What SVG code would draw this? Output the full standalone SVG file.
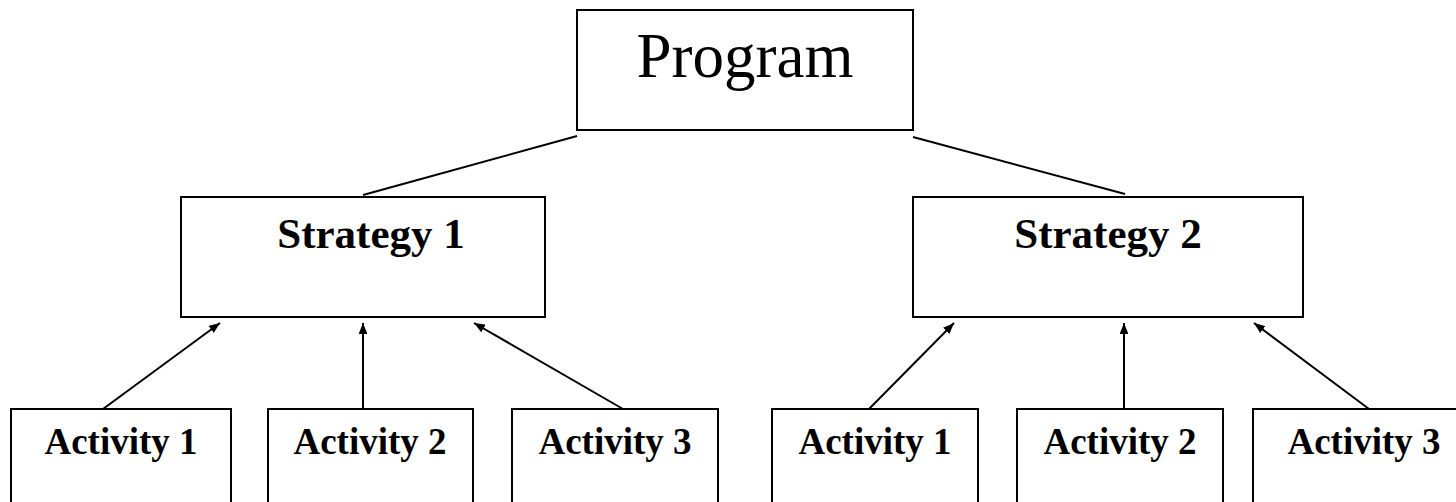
<svg xmlns="http://www.w3.org/2000/svg" width="1456" height="502" viewBox="0 0 1456 502">
<style>
.box{fill:#fff;stroke:#000;stroke-width:2}
.ln{stroke:#000;stroke-width:2;fill:none}
.ar{stroke:#000;stroke-width:2;fill:none;marker-end:url(#ah)}
.t{font-family:"Liberation Serif","Times New Roman",serif;fill:#000;text-anchor:middle}
.b{font-weight:bold}
</style>
<defs>
<marker id="ah" viewBox="0 0 10 8" refX="10" refY="4" markerWidth="5.5" markerHeight="4.4" orient="auto" markerUnits="strokeWidth">
<path d="M0,0 L10,4 L0,8 Z" fill="#000"/>
</marker>
</defs>
<rect width="1456" height="502" fill="#fff"/>
<g id="connectors">
<line class="ln" x1="577" y1="136" x2="363" y2="195"/>
<line class="ln" x1="913" y1="137" x2="1125" y2="194"/>
<line class="ar" x1="103" y1="409" x2="220" y2="323"/>
<line class="ar" x1="363" y1="409" x2="363" y2="323"/>
<line class="ar" x1="623" y1="409" x2="474" y2="323"/>
<line class="ar" x1="869" y1="409" x2="954" y2="323"/>
<line class="ar" x1="1124" y1="409" x2="1124" y2="323"/>
<line class="ar" x1="1369" y1="409" x2="1254" y2="323"/>
</g>
<g id="program">
<rect class="box" x="577" y="10" width="336" height="120"/>
<text class="t" x="745" y="77" font-size="63">Program</text>
</g>
<g id="strategy1">
<rect class="box" x="181" y="197" width="364" height="120"/>
<text class="t b" x="371" y="248" font-size="43">Strategy 1</text>
</g>
<g id="strategy2">
<rect class="box" x="913" y="197" width="390" height="120"/>
<text class="t b" x="1108" y="248" font-size="43">Strategy 2</text>
</g>
<g id="s1-activity1">
<rect class="box" x="11" y="409" width="220" height="120"/>
<text class="t b" x="121" y="454" font-size="37">Activity 1</text>
</g>
<g id="s1-activity2">
<rect class="box" x="268" y="409" width="205" height="120"/>
<text class="t b" x="370" y="454" font-size="37">Activity 2</text>
</g>
<g id="s1-activity3">
<rect class="box" x="512" y="409" width="206" height="120"/>
<text class="t b" x="615" y="454" font-size="37">Activity 3</text>
</g>
<g id="s2-activity1">
<rect class="box" x="772" y="409" width="206" height="120"/>
<text class="t b" x="875" y="454" font-size="37">Activity 1</text>
</g>
<g id="s2-activity2">
<rect class="box" x="1017" y="409" width="206" height="120"/>
<text class="t b" x="1120" y="454" font-size="37">Activity 2</text>
</g>
<g id="s2-activity3">
<rect class="box" x="1253" y="409" width="220" height="120"/>
<text class="t b" x="1364" y="454" font-size="37">Activity 3</text>
</g>
</svg>
